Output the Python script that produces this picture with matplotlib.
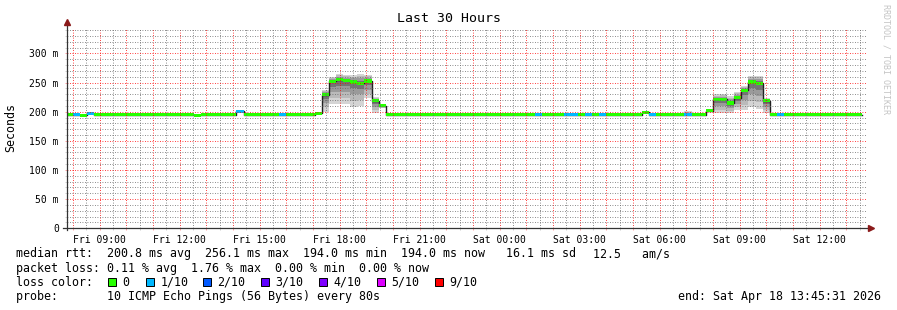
import matplotlib

matplotlib.use("Agg")
import matplotlib.pyplot as plt
import numpy as np
from matplotlib.patches import Rectangle

# Time axis in hours since Fri 00:00; RRD rows are 16-minute bins aligned to midnight.
WINDOW_START_H = 7 + 45 / 60 + 31 / 3600
WINDOW_H = 30
BIN_H = 16 / 60
FIRST_BIN, LAST_BIN = 29, 140

BASE_MS = 195.0  # flat median rtt outside the events

# bins where the median / smoke departs from the flat baseline
EVENT_BINS = [31, 32, 47, 53, 64, 65, 66, 67, 68, 69, 70, 71, 72, 73,
              110, 116, 119, 120, 121, 122, 123, 124, 125, 126, 127]
EVENT_MEDIAN = [194, 197.5, 194, 200.5, 197, 229, 252, 255, 254, 251, 249, 252.5, 219, 210,
                199, 195, 202, 221, 221, 215, 224, 237, 251, 249, 219]
EVENT_LO = [193, 196, 193, 198, 195, 200, 214, 214, 214, 208, 210, 223, 198, 207,
            197, 194, 199, 197, 197, 197, 203, 203, 208, 205, 197]
EVENT_HI = [195, 199, 195, 202, 199, 238, 260, 265, 263, 263, 265, 263, 225, 212,
            200, 201, 204, 230, 231, 227, 234, 244, 262, 262, 223]
# bins whose median is coloured for 1/10 packet loss
LOSS1_BINS = [30, 32, 53, 59, 95, 99, 100, 102, 104, 111, 116, 129]

LOSS_LABELS = ["0", "1/10", "2/10", "3/10", "4/10", "5/10", "9/10"]
LOSS_COLORS = ["#26ff00", "#00b8ff", "#0059ff", "#5e00ff", "#7e00ff", "#dd00ff", "#ff0000"]

TITLE = "Last 30 Hours"
RTT_LINE = "median rtt:  200.8 ms avg  256.1 ms max  194.0 ms min  194.0 ms now   16.1 ms sd"
RTT_TAIL = "12.5   am/s"
LOSS_LINE = "packet loss: 0.11 % avg  1.76 % max  0.00 % min  0.00 % now"
PROBE_LINE = "probe:       10 ICMP Echo Pings (56 Bytes) every 80s"
END_LINE = "end: Sat Apr 18 13:45:31 2026"

W, H = 897, 310
MONO = "DejaVu Sans Mono"


def fx(x):
    return x / W


def fy(y):
    return 1 - y / H


# full per-bin series
bins = np.arange(FIRST_BIN, LAST_BIN + 1)
median = np.full(len(bins), BASE_MS)
lo = median - 1.0
hi = median + 1.0
for b, m, l, h in zip(EVENT_BINS, EVENT_MEDIAN, EVENT_LO, EVENT_HI):
    i = b - FIRST_BIN
    median[i], lo[i], hi[i] = m, l, h
loss = np.zeros(len(bins), dtype=int)
for b in LOSS1_BINS:
    loss[b - FIRST_BIN] = 1
t_left = bins * BIN_H

fig = plt.figure(figsize=(W / 100, H / 100), dpi=100)
fig.patch.set_facecolor("white")
ax = fig.add_axes([fx(66.5), fy(228.3), 800 / W, 200 / H])

# smoke: nested grey bands, darker towards the median
for frac, grey in zip([1.0, 0.75, 0.5, 0.25], ["#d4d4d4", "#bababa", "#9a9a9a", "#747474"]):
    b_lo = median - (median - lo) * frac
    b_hi = median + (hi - median) * frac
    ax.bar(t_left, b_hi - b_lo, bottom=b_lo, width=BIN_H, align="edge",
           color=grey, lw=0, zorder=1)

# thin dark median line gives the black risers between steps
edges = np.append(t_left, t_left[-1] + BIN_H)
ax.step(edges, np.append(median, median[-1]), where="post", color="#202020", lw=1.0, zorder=1.5)

# loss-coloured median band (about 3 px tall)
hw = 1.6 * 343 / 200
ax.bar(t_left, 2 * hw, bottom=median - hw, width=BIN_H, align="edge",
       color=[LOSS_COLORS[v] for v in loss], lw=0, zorder=2)

x0 = WINDOW_START_H
ax.set_xlim(x0, x0 + WINDOW_H)
ax.set_ylim(0, 343)

hours = np.arange(8, 38)
ax.set_xticks(hours)
ax.set_xticklabels([
    f"{'Fri' if h < 24 else 'Sat'} {h % 24:02d}:00" if h % 3 == 0 else "" for h in hours
])
ax.set_xticks(np.arange(8, 38, 0.5), minor=True)
yt = np.arange(0, 301, 50)
ax.set_yticks(yt)
ax.set_yticklabels(["0" if v == 0 else f"{v} m" for v in yt])
ax.set_yticks(np.arange(0, 341, 10), minor=True)

major_c = (1.0, 0.0, 0.0, 0.36)
minor_c = (0.4, 0.4, 0.4, 0.3)
ax.set_axisbelow(False)
ax.grid(which="major", color=major_c, ls=(0, (1, 2)), lw=0.6)
ax.grid(which="minor", color=minor_c, ls=(0, (1, 2)), lw=0.6)
ax.tick_params(which="major", length=1.5, width=0.72, color=major_c, labelsize=7,
               labelfontfamily=MONO, pad=3)
ax.tick_params(which="minor", length=1.5, width=0.72, color=minor_c)
ax.tick_params(axis="y", pad=4)

for s in ax.spines.values():
    s.set_visible(False)
axis_c = "#333333"
ax.plot([0, 0], [-0.01, 1.03], transform=ax.transAxes, color=axis_c, lw=0.9, clip_on=False, zorder=5)
ax.plot([-0.005, 1.004], [0, 0], transform=ax.transAxes, color=axis_c, lw=0.9, clip_on=False, zorder=5)
ax.plot([0], [1.03], marker="^", ms=4, color="#8b1a1a", transform=ax.transAxes, clip_on=False, zorder=6)
ax.plot([1.005], [0], marker=">", ms=4, color="#8b1a1a", transform=ax.transAxes, clip_on=False, zorder=6)

# texts
fig.text(0.5, fy(19), TITLE, ha="center", va="center", family=MONO, fontsize=9.5)
fig.text(fx(11), fy(127), "Seconds", rotation=90, ha="center", va="center", family=MONO, fontsize=8.4)
fig.text(fx(886), fy(4), "RRDTOOL / TOBI OETIKER", rotation=270, ha="center", va="top",
         family=MONO, fontsize=6.0, color="#c4c4c4")

text_kw = dict(family=MONO, fontsize=8.37, va="center", ha="left")
fig.text(fx(16), fy(254), RTT_LINE, **text_kw)
fig.text(fx(593), fy(254), RTT_TAIL, **text_kw)
fig.text(fx(16), fy(268.3), LOSS_LINE, **text_kw)
fig.text(fx(16), fy(282.3), "loss color:", **text_kw)
fig.text(fx(16), fy(296.7), PROBE_LINE, **text_kw)
fig.text(fx(881), fy(296.7), END_LINE, family=MONO, fontsize=8.37, va="center", ha="right")

square_x = [108, 145.7, 203, 261, 319, 376.7, 435]
for sx, lab, col in zip(square_x, LOSS_LABELS, LOSS_COLORS):
    fig.patches.append(Rectangle((fx(sx), fy(286.3)), 8 / W, 8 / H, transform=fig.transFigure,
                                 facecolor=col, edgecolor="black", lw=0.7))
    fig.text(fx(sx + 14.5), fy(282.3), lab, **text_kw)

fig.savefig("out.png", dpi=100, facecolor="white")
